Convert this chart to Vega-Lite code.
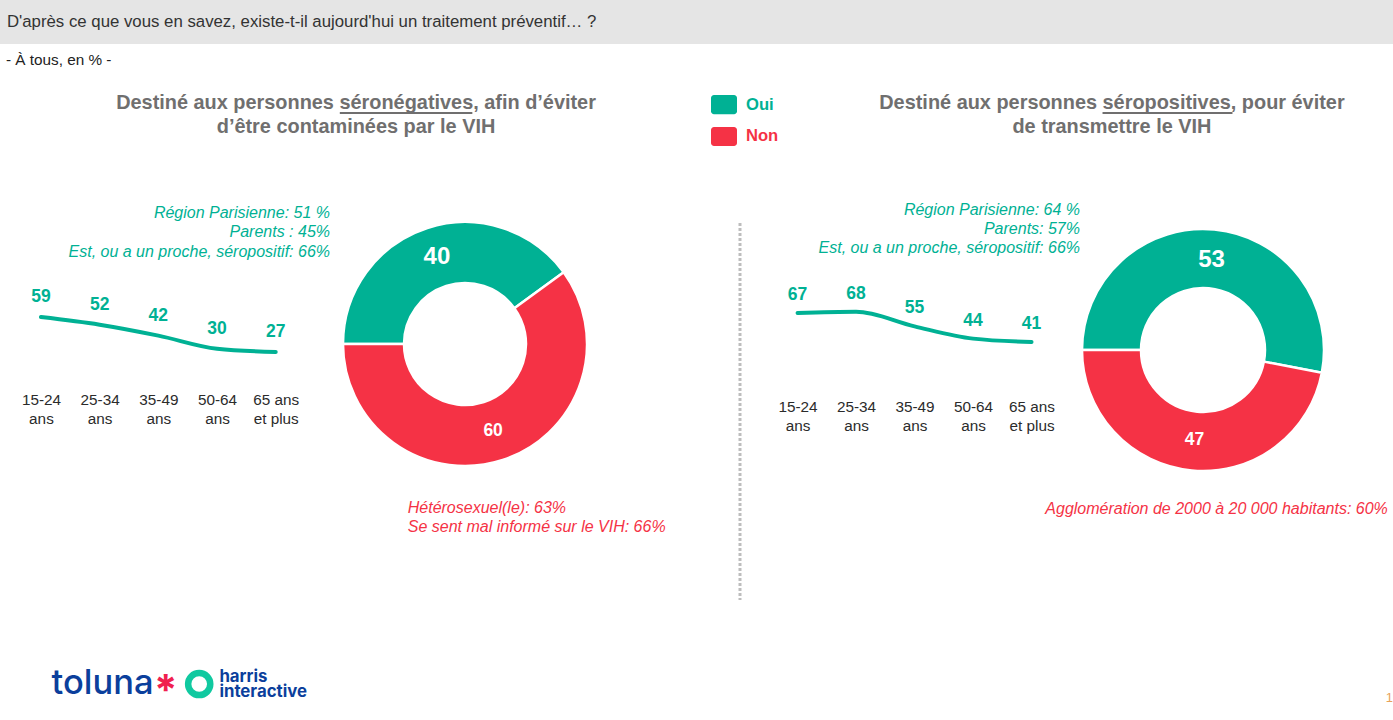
{
  "$schema": "https://vega.github.io/schema/vega-lite/v6.json",
  "background": "white",
  "padding": 0,
  "spacing": 0,
  "config": {
    "view": {"stroke": null},
    "font": "Liberation Sans",
    "concat": {"spacing": 0},
    "axis": {"grid": false}
  },
  "vconcat": [
    {
      "width": 1393,
      "height": 44,
      "view": {"fill": "#e5e5e5", "stroke": null},
      "data": {"values": [{"texte": "D'après ce que vous en savez, existe-t-il aujourd'hui un traitement préventif… ?"}]},
      "mark": {"type": "text", "align": "left", "fontSize": 16.8, "color": "#333333"},
      "encoding": {
        "x": {"datum": 0.5, "scale": {"domain": [0, 100]}, "axis": null},
        "text": {"field": "texte"}
      }
    },
    {
      "width": 1393,
      "height": 31,
      "data": {"values": [{"texte": "- À tous, en % -"}]},
      "mark": {"type": "text", "align": "left", "fontSize": 15.3, "color": "#222222"},
      "encoding": {
        "x": {"datum": 0.43, "scale": {"domain": [0, 100]}, "axis": null},
        "text": {"field": "texte"}
      }
    },
    {
      "spacing": 0,
      "hconcat": [
        {
          "width": 705,
          "height": 126,
          "encoding": {
            "x": {"datum": 50.5, "scale": {"domain": [0, 100]}, "axis": null},
            "text": {"field": "ligne"}
          },
          "layer": [
            {
              "data": {"values": [{"ligne": "Destiné aux personnes séronégatives, afin d’éviter"}]},
              "mark": {"type": "text", "fontSize": 19.9, "fontWeight": "bold", "color": "#706f6f"},
              "encoding": {"y": {"datum": 22.2, "scale": {"domain": [0, 100], "reverse": true}, "axis": null}}
            },
            {
              "data": {"values": [{"ligne": "d’être contaminées par le VIH"}]},
              "mark": {"type": "text", "fontSize": 19.9, "fontWeight": "bold", "color": "#706f6f"},
              "encoding": {"y": {"datum": 41.3, "scale": {"domain": [0, 100], "reverse": true}, "axis": null}}
            },
            {
              "data": {"values": [{"ligne": "Destiné aux personnes séronégatives, afin d’éviter"}]},
              "mark": {"type": "rule", "color": "#706f6f", "strokeWidth": 2},
              "encoding": {
                "x": {"datum": 48.2, "scale": {"domain": [0, 100]}, "axis": null},
                "x2": {"datum": 67},
                "y": {"datum": 30.2, "scale": {"domain": [0, 100], "reverse": true}, "axis": null},
                "text": {"value": null}
              }
            }
          ]
        },
        {
          "width": 100,
          "height": 115,
          "data": {"values": [{"reponse": "Oui"}, {"reponse": "Non"}]},
          "encoding": {
            "y": {"field": "reponse", "type": "nominal", "sort": null, "axis": null, "scale": {"type": "band", "paddingInner": 0.4, "paddingOuter": 1, "align": 0.3125}},
            "color": {"field": "reponse", "type": "nominal", "legend": null, "scale": {"domain": ["Oui", "Non"], "range": ["#00b194", "#f53245"]}}
          },
          "layer": [
            {
              "mark": {"type": "rect", "cornerRadius": 3},
              "encoding": {
                "x": {"datum": 6, "scale": {"domain": [0, 100]}, "axis": null},
                "x2": {"datum": 32}
              }
            },
            {
              "mark": {"type": "text", "align": "left", "fontSize": 16.6, "fontWeight": "bold"},
              "encoding": {
                "x": {"datum": 41, "scale": {"domain": [0, 100]}, "axis": null},
                "text": {"field": "reponse"}
              }
            }
          ]
        },
        {
          "width": 588,
          "height": 126,
          "encoding": {
            "x": {"datum": 52.2, "scale": {"domain": [0, 100]}, "axis": null},
            "text": {"field": "ligne"}
          },
          "layer": [
            {
              "data": {"values": [{"ligne": "Destiné aux personnes séropositives, pour éviter"}]},
              "mark": {"type": "text", "fontSize": 19.9, "fontWeight": "bold", "color": "#706f6f"},
              "encoding": {"y": {"datum": 22.2, "scale": {"domain": [0, 100], "reverse": true}, "axis": null}}
            },
            {
              "data": {"values": [{"ligne": "de transmettre le VIH"}]},
              "mark": {"type": "text", "fontSize": 19.9, "fontWeight": "bold", "color": "#706f6f"},
              "encoding": {"y": {"datum": 41.3, "scale": {"domain": [0, 100], "reverse": true}, "axis": null}}
            },
            {
              "data": {"values": [{"ligne": "Destiné aux personnes séropositives, pour éviter"}]},
              "mark": {"type": "rule", "color": "#706f6f", "strokeWidth": 2},
              "encoding": {
                "x": {"datum": 50.6, "scale": {"domain": [0, 100]}, "axis": null},
                "x2": {"datum": 72.7},
                "y": {"datum": 30.2, "scale": {"domain": [0, 100], "reverse": true}, "axis": null},
                "text": {"value": null}
              }
            }
          ]
        }
      ]
    },
    {
      "spacing": 0,
      "hconcat": [
        {
          "spacing": 0,
          "vconcat": [
            {
              "spacing": 0,
              "hconcat": [
                {
                  "spacing": 0,
                  "vconcat": [
                    {
                      "width": 330,
                      "height": 60,
                      "data": {"values": [
                        {"ligne": "Région Parisienne: 51 %"},
                        {"ligne": "Parents : 45%"},
                        {"ligne": "Est, ou a un proche, séropositif: 66%"}
                      ]},
                      "mark": {"type": "text", "align": "right", "fontSize": 16, "fontStyle": "italic", "color": "#00b194"},
                      "encoding": {
                        "x": {"datum": 100, "scale": {"domain": [0, 100]}, "axis": null},
                        "y": {"field": "ligne", "type": "nominal", "sort": null, "axis": null, "scale": {"type": "point", "padding": 0.538, "align": 0.476}},
                        "text": {"field": "ligne"}
                      }
                    },
                    {
                      "width": 330,
                      "height": 120,
                      "data": {"values": [
                        {"age": "15-24 ans", "pct": 59},
                        {"age": "25-34 ans", "pct": 52},
                        {"age": "35-49 ans", "pct": 42},
                        {"age": "50-64 ans", "pct": 30},
                        {"age": "65 ans et plus", "pct": 27}
                      ]},
                      "encoding": {
                        "x": {
                          "field": "age",
                          "type": "ordinal",
                          "sort": null,
                          "title": null,
                          "scale": {"type": "point", "padding": 0.811, "align": 0.43},
                          "axis": {
                            "domain": false,
                            "ticks": false,
                            "labelAngle": 0,
                            "labelPadding": 9,
                            "labelFontSize": 15.3,
                            "labelColor": "#2b2b2b",
                            "labelLineHeight": 19,
                            "labelOverlap": false,
                            "labelBound": false,
                            "labelExpr": "indexof(datum.label,'et plus')>0 ? ['65 ans','et plus'] : split(datum.label,' ')"
                          }
                        },
                        "y": {"field": "pct", "type": "quantitative", "axis": null, "scale": {"domain": [-1.3, 108.4], "zero": false, "nice": false}}
                      },
                      "layer": [
                        {"mark": {"type": "line", "color": "#00b194", "strokeWidth": 4, "interpolate": "monotone", "strokeCap": "round"}},
                        {
                          "mark": {"type": "text", "dy": -20, "fontSize": 17.5, "fontWeight": "bold", "color": "#00b194"},
                          "encoding": {"text": {"field": "pct", "type": "quantitative"}}
                        }
                      ]
                    }
                  ]
                },
                {
                  "width": 270,
                  "height": 282,
                  "data": {"values": [{"reponse": "Oui", "pct": 40}, {"reponse": "Non", "pct": 60}]},
                  "encoding": {
                    "theta": {"field": "pct", "type": "quantitative", "stack": true, "scale": {"range": [-1.5708, 4.7124]}},
                    "order": {"field": "reponse", "sort": "descending"}
                  },
                  "layer": [
                    {
                      "mark": {"type": "arc", "outerRadius": 122, "innerRadius": 61, "stroke": "white", "strokeWidth": 2.5, "strokeJoin": "round"},
                      "encoding": {
                        "color": {"field": "reponse", "type": "nominal", "legend": null, "scale": {"domain": ["Oui", "Non"], "range": ["#00b194", "#f53245"]}}
                      }
                    },
                    {
                      "mark": {"type": "text", "radius": 91, "fontWeight": "bold", "color": "white"},
                      "encoding": {
                        "text": {"field": "pct", "type": "quantitative"},
                        "size": {"field": "reponse", "type": "ordinal", "legend": null, "scale": {"domain": ["Oui", "Non"], "range": [24, 17.5]}}
                      }
                    }
                  ]
                }
              ]
            },
            {
              "width": 736,
              "height": 57,
              "data": {"values": [
                {"ligne": "Hétérosexuel(le): 63%"},
                {"ligne": "Se sent mal informé sur le VIH: 66%"}
              ]},
              "mark": {"type": "text", "align": "left", "fontSize": 16, "fontStyle": "italic", "color": "#f53245"},
              "encoding": {
                "x": {"datum": 55.4, "scale": {"domain": [0, 100]}, "axis": null},
                "y": {"field": "ligne", "type": "nominal", "sort": null, "axis": null, "scale": {"type": "point", "padding": 1, "align": 0.606}},
                "text": {"field": "ligne"}
              }
            }
          ]
        },
        {
          "width": 8,
          "height": 398,
          "data": {"values": [{"trait": "séparateur"}]},
          "mark": {"type": "rule", "color": "#bdbdbd", "strokeWidth": 3, "strokeDash": [3, 2]},
          "encoding": {
            "x": {"datum": 50, "scale": {"domain": [0, 100]}, "axis": null},
            "y": {"datum": 5, "scale": {"domain": [0, 100], "reverse": true}, "axis": null},
            "y2": {"datum": 99.75}
          }
        },
        {
          "spacing": 0,
          "vconcat": [
            {
              "spacing": 0,
              "hconcat": [
                {
                  "spacing": 0,
                  "vconcat": [
                    {
                      "width": 336,
                      "height": 60,
                      "data": {"values": [
                        {"ligne": "Région Parisienne: 64 %"},
                        {"ligne": "Parents: 57%"},
                        {"ligne": "Est, ou a un proche, séropositif: 66%"}
                      ]},
                      "mark": {"type": "text", "align": "right", "fontSize": 16, "fontStyle": "italic", "color": "#00b194"},
                      "encoding": {
                        "x": {"datum": 100, "scale": {"domain": [0, 100]}, "axis": null},
                        "y": {"field": "ligne", "type": "nominal", "sort": null, "axis": null, "scale": {"type": "point", "padding": 0.579, "align": 0.318}},
                        "text": {"field": "ligne"}
                      }
                    },
                    {
                      "width": 336,
                      "height": 120,
                      "data": {"values": [
                        {"age": "15-24 ans", "pct": 67},
                        {"age": "25-34 ans", "pct": 68},
                        {"age": "35-49 ans", "pct": 55},
                        {"age": "50-64 ans", "pct": 44},
                        {"age": "65 ans et plus", "pct": 41}
                      ]},
                      "encoding": {
                        "x": {
                          "field": "age",
                          "type": "ordinal",
                          "sort": null,
                          "title": null,
                          "scale": {"type": "point", "padding": 0.872, "align": 0.525},
                          "axis": {
                            "domain": false,
                            "ticks": false,
                            "labelAngle": 0,
                            "labelPadding": 16,
                            "labelFontSize": 15.3,
                            "labelColor": "#2b2b2b",
                            "labelLineHeight": 19,
                            "labelOverlap": false,
                            "labelBound": false,
                            "labelExpr": "indexof(datum.label,'et plus')>0 ? ['65 ans','et plus'] : split(datum.label,' ')"
                          }
                        },
                        "y": {"field": "pct", "type": "quantitative", "axis": null, "scale": {"domain": [4.2, 111.8], "zero": false, "nice": false}}
                      },
                      "layer": [
                        {"mark": {"type": "line", "color": "#00b194", "strokeWidth": 4, "interpolate": "monotone", "strokeCap": "round"}},
                        {
                          "mark": {"type": "text", "dy": -18, "fontSize": 17.5, "fontWeight": "bold", "color": "#00b194"},
                          "encoding": {"text": {"field": "pct", "type": "quantitative"}}
                        }
                      ]
                    }
                  ]
                },
                {
                  "width": 246,
                  "height": 294,
                  "data": {"values": [{"reponse": "Oui", "pct": 53}, {"reponse": "Non", "pct": 47}]},
                  "encoding": {
                    "theta": {"field": "pct", "type": "quantitative", "stack": true, "scale": {"range": [-1.5708, 4.7124]}},
                    "order": {"field": "reponse", "sort": "descending"}
                  },
                  "layer": [
                    {
                      "mark": {"type": "arc", "outerRadius": 121, "innerRadius": 62, "stroke": "white", "strokeWidth": 2.5, "strokeJoin": "round"},
                      "encoding": {
                        "color": {"field": "reponse", "type": "nominal", "legend": null, "scale": {"domain": ["Oui", "Non"], "range": ["#00b194", "#f53245"]}}
                      }
                    },
                    {
                      "mark": {"type": "text", "radius": 90, "fontWeight": "bold", "color": "white"},
                      "encoding": {
                        "text": {"field": "pct", "type": "quantitative"},
                        "size": {"field": "reponse", "type": "ordinal", "legend": null, "scale": {"domain": ["Oui", "Non"], "range": [24, 17.5]}}
                      }
                    }
                  ]
                }
              ]
            },
            {
              "width": 649,
              "height": 24,
              "data": {"values": [{"ligne": "Agglomération de 2000 à 20 000 habitants: 60%"}]},
              "mark": {"type": "text", "align": "right", "fontSize": 16, "fontStyle": "italic", "color": "#f53245"},
              "encoding": {
                "x": {"datum": 99.2, "scale": {"domain": [0, 100]}, "axis": null},
                "text": {"field": "ligne"}
              }
            }
          ]
        }
      ]
    },
    {
      "width": 1393,
      "height": 121,
      "layer": [
        {
          "data": {"values": [{"logo": "toluna"}]},
          "mark": {"type": "text", "align": "left", "font": "Inter", "fontSize": 34.5, "fontWeight": 500, "color": "#0b3f9c"},
          "encoding": {"x": {"datum": 3.7, "scale": {"domain": [0, 100]}, "axis": null}, "y": {"datum": 67.8, "scale": {"domain": [0, 100], "reverse": true}, "axis": null}, "text": {"field": "logo"}}
        },
        {
          "data": {"values": [{"logo": "*"}]},
          "mark": {"type": "text", "align": "center", "font": "Inter", "fontSize": 42, "fontWeight": 700, "color": "#f0204f", "dy": 8},
          "encoding": {"x": {"datum": 11.9, "scale": {"domain": [0, 100]}, "axis": null}, "y": {"datum": 67.8, "scale": {"domain": [0, 100], "reverse": true}, "axis": null}, "text": {"field": "logo"}}
        },
        {
          "data": {"values": [{"logo": "anneau"}]},
          "mark": {"type": "point", "shape": "circle", "filled": false, "size": 490, "strokeWidth": 6.5, "color": "#10c9a0", "opacity": 1},
          "encoding": {"x": {"datum": 14.3, "scale": {"domain": [0, 100]}, "axis": null}, "y": {"datum": 67.8, "scale": {"domain": [0, 100], "reverse": true}, "axis": null}}
        },
        {
          "data": {"values": [{"logo": "harris"}]},
          "mark": {"type": "text", "align": "left", "font": "Inter", "fontSize": 16.8, "fontWeight": 700, "color": "#0b3f9c"},
          "encoding": {"x": {"datum": 15.75, "scale": {"domain": [0, 100]}, "axis": null}, "y": {"datum": 61.6, "scale": {"domain": [0, 100], "reverse": true}, "axis": null}, "text": {"field": "logo"}}
        },
        {
          "data": {"values": [{"logo": "interactive"}]},
          "mark": {"type": "text", "align": "left", "font": "Inter", "fontSize": 16.8, "fontWeight": 700, "color": "#0b3f9c"},
          "encoding": {"x": {"datum": 15.75, "scale": {"domain": [0, 100]}, "axis": null}, "y": {"datum": 74.2, "scale": {"domain": [0, 100], "reverse": true}, "axis": null}, "text": {"field": "logo"}}
        },
        {
          "data": {"values": [{"page": "1"}]},
          "mark": {"type": "text", "align": "right", "fontSize": 13, "color": "#e8a25a"},
          "encoding": {"x": {"datum": 100, "scale": {"domain": [0, 100]}, "axis": null}, "y": {"datum": 79.3, "scale": {"domain": [0, 100], "reverse": true}, "axis": null}, "text": {"field": "page"}}
        }
      ]
    }
  ]
}
